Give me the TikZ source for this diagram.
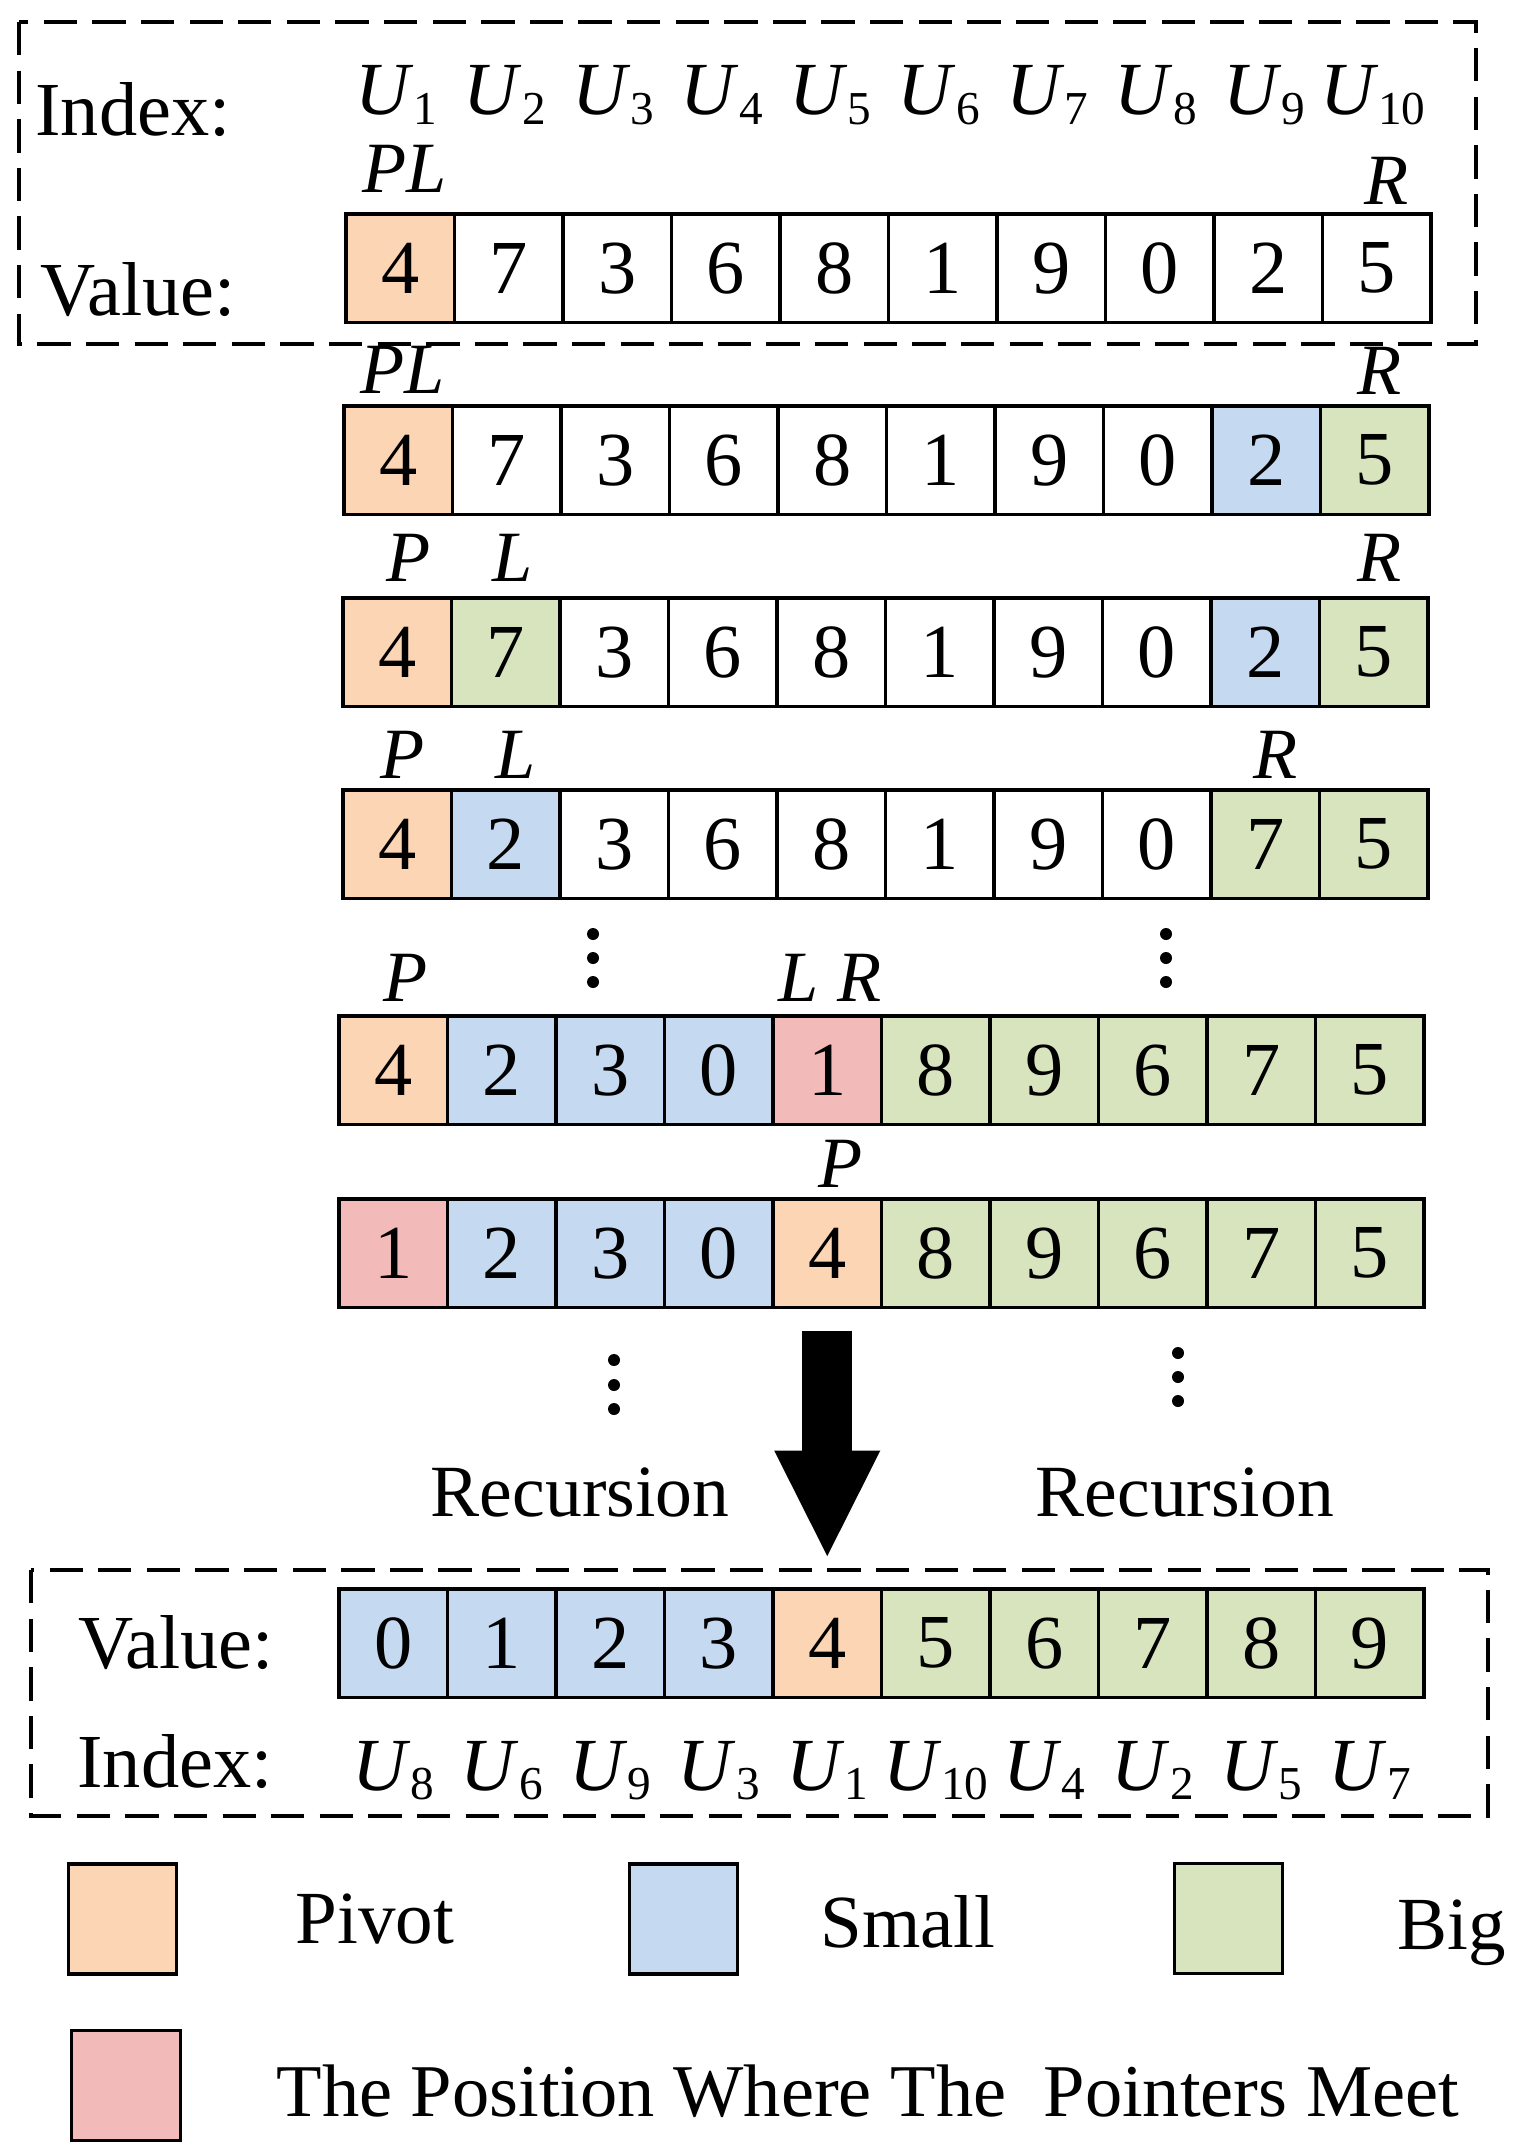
\documentclass[tikz,border=0pt]{standalone}
\usepackage{fontspec}
\setmainfont{Liberation Serif}
\usetikzlibrary{positioning,arrows.meta}

\definecolor{pivotc}{HTML}{FCD5B5}
\definecolor{smallc}{HTML}{C5D9F0}
\definecolor{bigc}{HTML}{D7E4BD}
\definecolor{meetc}{HTML}{F2BAB8}

\newcommand{\Uidx}[1]{\textit{U}\raisebox{-3.4pt}{\fontsize{17}{18}\selectfont #1}}

\tikzset{
  cell/.style={draw,line width=1.1pt,minimum width=39.06pt,minimum height=39.06pt,inner sep=0pt,outer sep=0pt,font=\fontsize{27.5}{30}\selectfont},
  ptr/.style={inner sep=0pt,font=\fontsize{26}{28}\selectfont\itshape},
  txt/.style={inner sep=0pt,anchor=base west,font=\fontsize{27}{30}\selectfont},
  idx/.style={inner sep=0pt,anchor=base,font=\fontsize{27}{30}\selectfont},
  dashbox/.style={line width=1.4pt,dash pattern=on 12pt off 5.5pt},
  swatch/.style={draw,line width=1.1pt,minimum width=39.2pt,minimum height=39.6pt,inner sep=0pt},
  bigarrow/.style={line width=18pt,-{Triangle[length=39pt,width=35pt]}}
}

\begin{document}
\begin{tikzpicture}[x=0.36pt,y=-0.36pt]
\useasboundingbox (0,0) rectangle (1522,2155);

\draw[dashbox](19,22) rectangle (1476,344);
\node[txt,font=\fontsize{27.5}{30}\selectfont] (index1) at (35,136) {Index:};
\node[txt,font=\fontsize{27.5}{30}\selectfont] (value1) at (40,316) {Value:};
\foreach \i in {1,...,10}
  \node[idx] (u\i) at ({346+(\i-0.5)*108.5-4},115) {\Uidx{\i}};

\foreach \v/\c [count=\i] in {4/pivotc,7/white,3/white,6/white,8/white,1/white,9/white,0/white,2/white,5/white}
  \node[cell,fill=\c] (r1-\i) at ({346+(\i-0.5)*108.5},268.25) {\v};
\foreach \v/\c [count=\i] in {4/pivotc,7/white,3/white,6/white,8/white,1/white,9/white,0/white,2/smallc,5/bigc}
  \node[cell,fill=\c] (r2-\i) at ({344+(\i-0.5)*108.5},460.25) {\v};
\foreach \v/\c [count=\i] in {4/pivotc,7/bigc,3/white,6/white,8/white,1/white,9/white,0/white,2/smallc,5/bigc}
  \node[cell,fill=\c] (r3-\i) at ({343+(\i-0.5)*108.5},652.25) {\v};
\foreach \v/\c [count=\i] in {4/pivotc,2/smallc,3/white,6/white,8/white,1/white,9/white,0/white,7/bigc,5/bigc}
  \node[cell,fill=\c] (r4-\i) at ({343+(\i-0.5)*108.5},844.25) {\v};
\foreach \v/\c [count=\i] in {4/pivotc,2/smallc,3/smallc,0/smallc,1/meetc,8/bigc,9/bigc,6/bigc,7/bigc,5/bigc}
  \node[cell,fill=\c] (r5-\i) at ({339+(\i-0.5)*108.5},1070.25) {\v};
\foreach \v/\c [count=\i] in {1/meetc,2/smallc,3/smallc,0/smallc,4/pivotc,8/bigc,9/bigc,6/bigc,7/bigc,5/bigc}
  \node[cell,fill=\c] (r6-\i) at ({339+(\i-0.5)*108.5},1253.25) {\v};

\node[ptr,above=7.6pt of r1-1,xshift=1.5pt] (pl1) {PL};
\node[ptr,above=3.2pt of r1-10,xshift=3.6pt] (r1r) {R};
\node[ptr,above=4.3pt of r2-1,xshift=1.5pt] (pl2) {PL};
\node[ptr,above=4pt of r2-10,xshift=1.8pt] (r2r) {R};
\node[ptr,above=5.8pt of r3-1,xshift=4pt] (p3) {P};
\node[ptr,above=5.8pt of r3-2,xshift=2.5pt] (l3) {L};
\node[ptr,above=5.8pt of r3-10,xshift=2pt] (r3r) {R};
\node[ptr,above=4pt of r4-1,xshift=2pt] (p4) {P};
\node[ptr,above=4pt of r4-2,xshift=3.6pt] (l4) {L};
\node[ptr,above=4pt of r4-9,xshift=3.6pt] (r4r) {R};
\node[ptr,above=5pt of r5-1,xshift=4.3pt] (p5) {P};
\node[ptr,above=5pt of r5-5,xshift=1pt] (lr5) {L R};
\node[ptr,above=4pt of r6-5,xshift=4.7pt] (p6) {P};

\foreach \x/\y in {593/934,593/958,593/982,1166/934,1166/958,1166/982,
  614/1360,614/1385,614/1409,1178/1353,1178/1377,1178/1401}
  \fill (\x,\y) circle (6);

\node[idx,font=\fontsize{26.5}{30}\selectfont] (rec1) at (580,1516) {Recursion};
\node[txt,font=\fontsize{26.5}{30}\selectfont] (rec2) at (1035,1516) {Recursion};

\draw[dashbox](31,1570) rectangle (1488,1816);
\foreach \v/\c [count=\i] in {0/smallc,1/smallc,2/smallc,3/smallc,4/pivotc,5/bigc,6/bigc,7/bigc,8/bigc,9/bigc}
  \node[cell,fill=\c] (r7-\i) at ({339+(\i-0.5)*108.5},1643.25) {\v};
\node[txt,font=\fontsize{27.5}{30}\selectfont] (value2) at (78,1668) {Value:};
\node[txt,font=\fontsize{27.5}{30}\selectfont] (index2) at (77,1787) {Index:};
\foreach \k [count=\i] in {8,6,9,3,1,10,4,2,5,7}
  \node[idx] (w\i) at ({339+(\i-0.5)*108.5},1790) {\Uidx{\k}};

\draw[bigarrow] ([yshift=-8.3pt]r6-5.south) -- ([yshift=10.8pt]r7-5.north);

\node[swatch,fill=pivotc] (kpivot) at (122.5,1919) {};
\node[swatch,fill=smallc] (ksmall) at (683.5,1919) {};
\node[swatch,fill=bigc] (kbig) at (1228.5,1918.5) {};
\node[swatch,fill=meetc] (kmeet) at (126,2085.5) {};
\node[txt] (tpivot) at (295,1943) {Pivot};
\node[txt] (tsmall) at (820,1947) {Small};
\node[txt] (tbig) at (1397,1949) {Big};
\node[txt,font=\fontsize{26.8}{30}\selectfont] (tmeet) at (276,2116) {The Position Where The~~Pointers Meet};
\end{tikzpicture}
\end{document}
